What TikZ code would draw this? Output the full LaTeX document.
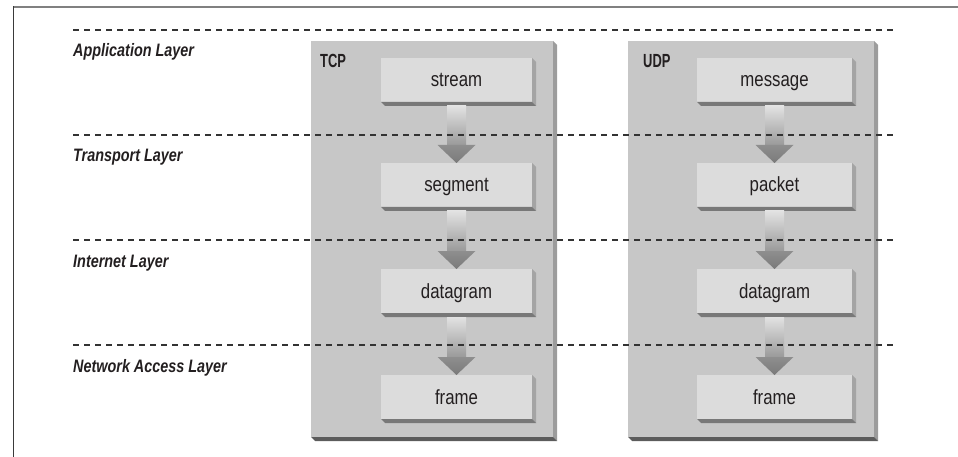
\documentclass[tikz,border=0pt]{standalone}
\usepackage{fontspec}
\setmainfont{Liberation Sans}
\newfontfamily\labfont[FakeStretch=0.8]{Liberation Sans}
\newfontfamily\boxfont[FakeStretch=0.82]{Liberation Sans}
\newfontfamily\protofont[FakeStretch=0.68]{Liberation Sans}
\usetikzlibrary{calc}
\definecolor{frametop}{HTML}{808080}
\definecolor{frameleft}{HTML}{3A3A3A}
\definecolor{outerfill}{HTML}{C7C7C7}
\definecolor{outerR}{HTML}{9C9C9C}
\definecolor{outerB}{HTML}{5C5C5C}
\definecolor{innerfill}{HTML}{DCDCDC}
\definecolor{innerR}{HTML}{A4A4A4}
\definecolor{innerB}{HTML}{787878}
\definecolor{arrtop}{HTML}{E2E2E2}
\definecolor{arrmid}{HTML}{9A9A9A}
\definecolor{headtop}{HTML}{8E8E8E}
\definecolor{headbot}{HTML}{7A7A7A}
\definecolor{dashcol}{HTML}{333333}
\definecolor{txtcol}{HTML}{231F20}
\newcommand{\shadowof}[4]{%
  \fill[#3] (#1.north east) -- ++(#2pt,-#2pt) -- ([shift={(#2pt,-#2pt)}]#1.south east) -- (#1.south east) -- cycle;
  \fill[#4] (#1.south west) -- (#1.south east) -- ([shift={(#2pt,-#2pt)}]#1.south east) -- ([shift={(#2pt,-#2pt)}]#1.south west) -- cycle;}
\newcommand{\flowarrow}[2]{%
  \shade[top color=arrtop, bottom color=arrmid] ($(#1.south)+(-9.5pt,-4pt)$) rectangle ($(#2.north)+(9.5pt,18pt)$);
  \shade[top color=headtop, bottom color=headbot] ($(#2.north)+(-19pt,18pt)$) -- ($(#2.north)+(19pt,18pt)$) -- (#2.north) -- cycle;}
\tikzset{
  outerbox/.style={draw=none, fill=outerfill, inner sep=0pt, outer sep=0pt, anchor=north west, minimum height=396pt},
  innerbox/.style={draw=none, fill=innerfill, inner sep=0pt, outer sep=0pt, anchor=north west, minimum height=44pt,
     text=txtcol, font=\boxfont\fontsize{20.5}{22}\selectfont, text height=15pt, text depth=1pt},
  layerlabel/.style={anchor=base west, inner sep=0pt, text=txtcol, font=\labfont\bfseries\itshape\fontsize{18}{20}\selectfont},
  protolabel/.style={anchor=base west, inner sep=0pt, text=txtcol, font=\protofont\bfseries\fontsize{19}{20}\selectfont},
  layerline/.style={draw=dashcol, line width=1.1pt, dash pattern=on 6pt off 5pt},
}
\begin{document}
\begin{tikzpicture}[x=1pt,y=-1pt]
\useasboundingbox (0,0) rectangle (958,457);
% frame
\draw[line width=2pt, frametop] (13,7.5) -- (958,7.5);
\draw[line width=1.6pt, frameleft] (13.5,6.5) -- (13.5,457);
% outer boxes
\node[outerbox, minimum width=242pt] (tcp) at (311,41) {};
\node[outerbox, minimum width=246pt] (udp) at (628,41) {};
\shadowof{tcp}{4}{outerR}{outerB}
\shadowof{udp}{4}{outerR}{outerB}
\node[protolabel] (tcpl) at (320,68) {TCP};
\node[protolabel] (udpl) at (643,68) {UDP};
% layer labels
\node[layerlabel] (lapp) at (73,57) {Application Layer};
\node[layerlabel] (ltra) at (73,162) {Transport Layer};
\node[layerlabel] (lint) at (73,267) {Internet Layer};
\node[layerlabel] (lnet) at (73,372) {Network Access Layer};
% inner boxes TCP
\node[innerbox, minimum width=151pt] (t1) at (381,58) {stream};
\node[innerbox, minimum width=151pt] (t2) at (381,163) {segment};
\node[innerbox, minimum width=151pt] (t3) at (381,269) {datagram};
\node[innerbox, minimum width=151pt] (t4) at (381,375) {frame};
% inner boxes UDP
\node[innerbox, minimum width=155pt] (u1) at (697,58) {message};
\node[innerbox, minimum width=155pt] (u2) at (697,163) {packet};
\node[innerbox, minimum width=155pt] (u3) at (697,269) {datagram};
\node[innerbox, minimum width=155pt] (u4) at (697,375) {frame};
\foreach \n in {t1,t2,t3,t4,u1,u2,u3,u4}{\shadowof{\n}{4}{innerR}{innerB}}
% arrows
\flowarrow{t1}{t2}
\flowarrow{t2}{t3}
\flowarrow{t3}{t4}
\flowarrow{u1}{u2}
\flowarrow{u2}{u3}
\flowarrow{u3}{u4}
% layer separators
\draw[layerline] (73,30) -- (897,30);
\draw[layerline] (73,135) -- (897,135);
\draw[layerline] (73,240) -- (897,240);
\draw[layerline] (73,345) -- (897,345);
\end{tikzpicture}
\end{document}
